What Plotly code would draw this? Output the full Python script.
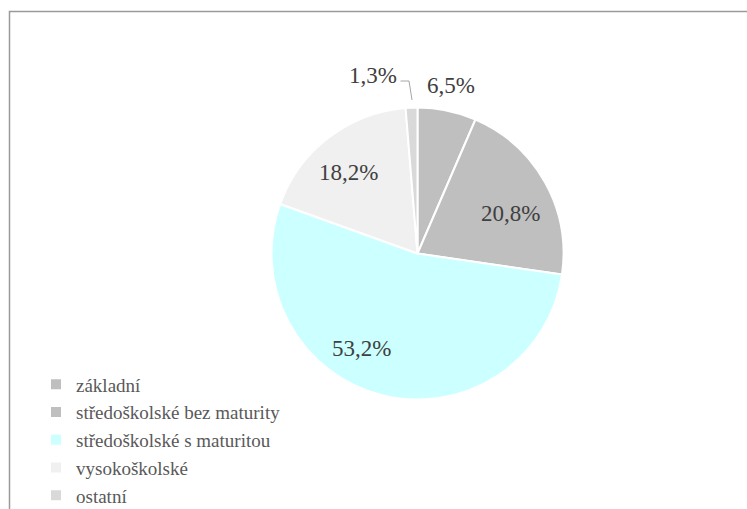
import plotly.graph_objects as go

categories = ["základní", "středoškolské bez maturity", "středoškolské s maturitou", "vysokoškolské", "ostatní"]
values = [6.5, 20.8, 53.2, 18.2, 1.3]
colors = ["#bfbfbf", "#bfbfbf", "#ccffff", "#f0f0f0", "#d9d9d9"]

W, H = 747, 509
cx, cy, r = 417.5, 253.5, 146
SERIF = "Liberation Serif, 'Times New Roman', 'DejaVu Serif', serif"

# data-label anchor points (pixels) as Excel placed them
label_pos = [(451, 85.5), (511, 213), (361, 348), (348, 172), (372.5, 75.5)]

def fmt(v):
    return f"{v:.1f}".replace(".", ",") + "%"

texts = [fmt(v) for v in values]

fig = go.Figure(go.Pie(
    labels=categories,
    values=values,
    sort=False,
    direction="clockwise",
    rotation=0,
    marker=dict(colors=colors, line=dict(color="white", width=2)),
    textinfo="none",
    hoverinfo="label+percent",
    domain=dict(x=[(cx - r) / W, (cx + r) / W], y=[(H - cy - r) / H, (H - cy + r) / H]),
))

for t, (px, py) in zip(texts, label_pos):
    fig.add_annotation(x=px / W, y=1 - py / H, xref="paper", yref="paper", text=t,
                       xanchor="center", yanchor="middle",
                       showarrow=False, font=dict(family=SERIF, size=23, color="#404040"))

# leader line for the small slice label
fig.add_shape(type="path", xref="paper", yref="paper",
              path=f"M {400.5/W},{1-81/H} L {409/W},{1-81/H} L {412/W},{1-100/H}",
              line=dict(color="#a6a6a6", width=1))

# chart border
fig.add_shape(type="rect", xref="paper", yref="paper",
              x0=9.5 / W, y0=-0.1, x1=1.1, y1=1 - 11.5 / H,
              line=dict(color="#9a9a9a", width=1.5), fillcolor="rgba(0,0,0,0)")

fig.update_layout(
    width=W, height=H,
    margin=dict(l=0, r=0, t=0, b=0, autoexpand=False),
    paper_bgcolor="white",
    plot_bgcolor="white",
    showlegend=True,
    legend=dict(
        x=36 / W, y=1 - 365.5 / H, xanchor="left", yanchor="top",
        font=dict(family=SERIF, size=19, color="#595959"),
        bgcolor="rgba(0,0,0,0)", tracegroupgap=0, itemwidth=30,
    ),
)

fig.write_html("out.html", config={"displayModeBar": False},
               post_script="document.body.style.margin='0';document.body.style.overflow='hidden';")
